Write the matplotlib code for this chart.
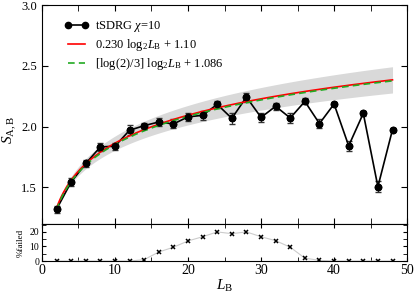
import numpy as np
import matplotlib
matplotlib.use('Agg')
import matplotlib.pyplot as plt
from matplotlib.ticker import MultipleLocator
from matplotlib.lines import Line2D

plt.rcParams['font.family'] = ['Liberation Serif', 'DejaVu Serif']
plt.rcParams['mathtext.fontset'] = 'custom'
plt.rcParams['mathtext.rm'] = 'Liberation Serif'
plt.rcParams['mathtext.it'] = 'Liberation Serif:italic'

# tSDRG chi=10 entanglement entropy
L_B = np.arange(2, 50, 2)
S_AB = [1.320, 1.544, 1.697, 1.833, 1.839, 1.970, 2.008, 2.038, 2.022, 2.080,
        2.093, 2.183, 2.068, 2.243, 2.076, 2.167, 2.071, 2.207, 2.025, 2.186,
        1.842, 2.109, 1.506, 1.975]
S_err = [0.030, 0.030, 0.030, 0.030, 0.030, 0.040, 0.025, 0.030, 0.037, 0.033,
         0.037, 0.027, 0.044, 0.037, 0.040, 0.027, 0.045, 0.025, 0.040, 0.020,
         0.040, 0.018, 0.044, 0.012]

# percentage of failed runs
failed = [0, 0, 0, 0, 0, 0, 1.0, 6.2, 9.5, 13.8, 16.7, 20.0, 18.8, 20.0,
          16.7, 14.0, 9.5, 2.0, 0.5, 0, 0, 0, 0, 0]

# fits
fit_a, fit_b = 0.230, 1.10
cft_a, cft_b = np.log(2) / 3, 1.086
band_da, band_pivot = 0.022, 1.6

fig = plt.figure(figsize=(4.15, 2.95), dpi=100)
ax = fig.add_axes([0.101, 0.241, 0.880, 0.742])
ax2 = fig.add_axes([0.101, 0.115, 0.880, 0.126], sharex=ax)

xs = np.linspace(2, 48, 200)
lx = np.log2(xs)
ax.fill_between(xs, fit_a * lx + fit_b - band_da * (lx - np.log2(band_pivot)),
                fit_a * lx + fit_b + band_da * (lx - np.log2(band_pivot)),
                color='#d9d9d9', lw=0, zorder=1)

ax.errorbar(L_B, S_AB, yerr=S_err, color='black', lw=1.2, marker='o', ms=4.5,
            capsize=2.5, elinewidth=0.8, ecolor='#333333', zorder=2)
h_fit, = ax.plot(xs, fit_a * lx + fit_b, color='red', lw=1.2, zorder=3)
h_cft, = ax.plot(xs, cft_a * lx + cft_b, color='#22aa22', lw=1.2,
                 ls=(0, (4, 2.5)), zorder=3)
ax.plot(L_B, S_AB, 'o', color='black', ms=4.5, zorder=4)
h_data = Line2D([], [], color='black', lw=1.2, marker='o', ms=4.5)

ax.set_xlim(0, 50)
ax.set_ylim(1.2, 3)
ax.yaxis.set_major_locator(MultipleLocator(0.5))
ax.xaxis.set_major_locator(MultipleLocator(10))
ax.xaxis.set_minor_locator(MultipleLocator(5))
ax.tick_params(axis='both', which='both', direction='in', top=True, right=True,
               labelsize=9)
ax.tick_params(axis='x', labelbottom=False)
ax.tick_params(which='major', length=4)
ax.tick_params(which='minor', length=4)
ax.set_ylabel(r'$S_{\mathrm{A,B}}$', fontsize=11)
ax.yaxis.set_label_coords(-0.062, 0.43)

ax.legend([h_data, h_fit, h_cft],
          [r'tSDRG $\chi$=10',
           r'0.230 log$_2$$L_{\mathrm{B}}$ + 1.10',
           r'[log(2)/3] log$_2$$L_{\mathrm{B}}$ + 1.086'],
          loc='upper left', bbox_to_anchor=(0.04, 0.97), frameon=False,
          fontsize=9, handlelength=2.0, handletextpad=0.5, numpoints=2,
          labelspacing=0.25, borderaxespad=0.2)

ax2.plot(L_B, failed, color='#cccccc', lw=0.8, marker='x', ms=3, mec='black',
         mew=1.1)
ax2.set_ylim(0, 25.5)
ax2.yaxis.set_major_locator(MultipleLocator(10))
ax2.yaxis.set_minor_locator(MultipleLocator(5))
ax2.tick_params(axis='both', which='both', direction='in', top=True, right=True)
ax2.tick_params(which='both', length=3)
ax2.tick_params(axis='y', labelsize=7, pad=2)
ax2.tick_params(axis='x', labelsize=10, pad=2)
ax2.set_ylabel('%failed', fontsize=6.5)
ax2.yaxis.set_label_coords(-0.047, 0.5)
ax2.set_xlabel(r'$L_{\mathrm{B}}$', fontsize=11, labelpad=1)

for a in (ax, ax2):
    for s in a.spines.values():
        s.set_linewidth(0.8)

fig.savefig('out.png', dpi=100)
